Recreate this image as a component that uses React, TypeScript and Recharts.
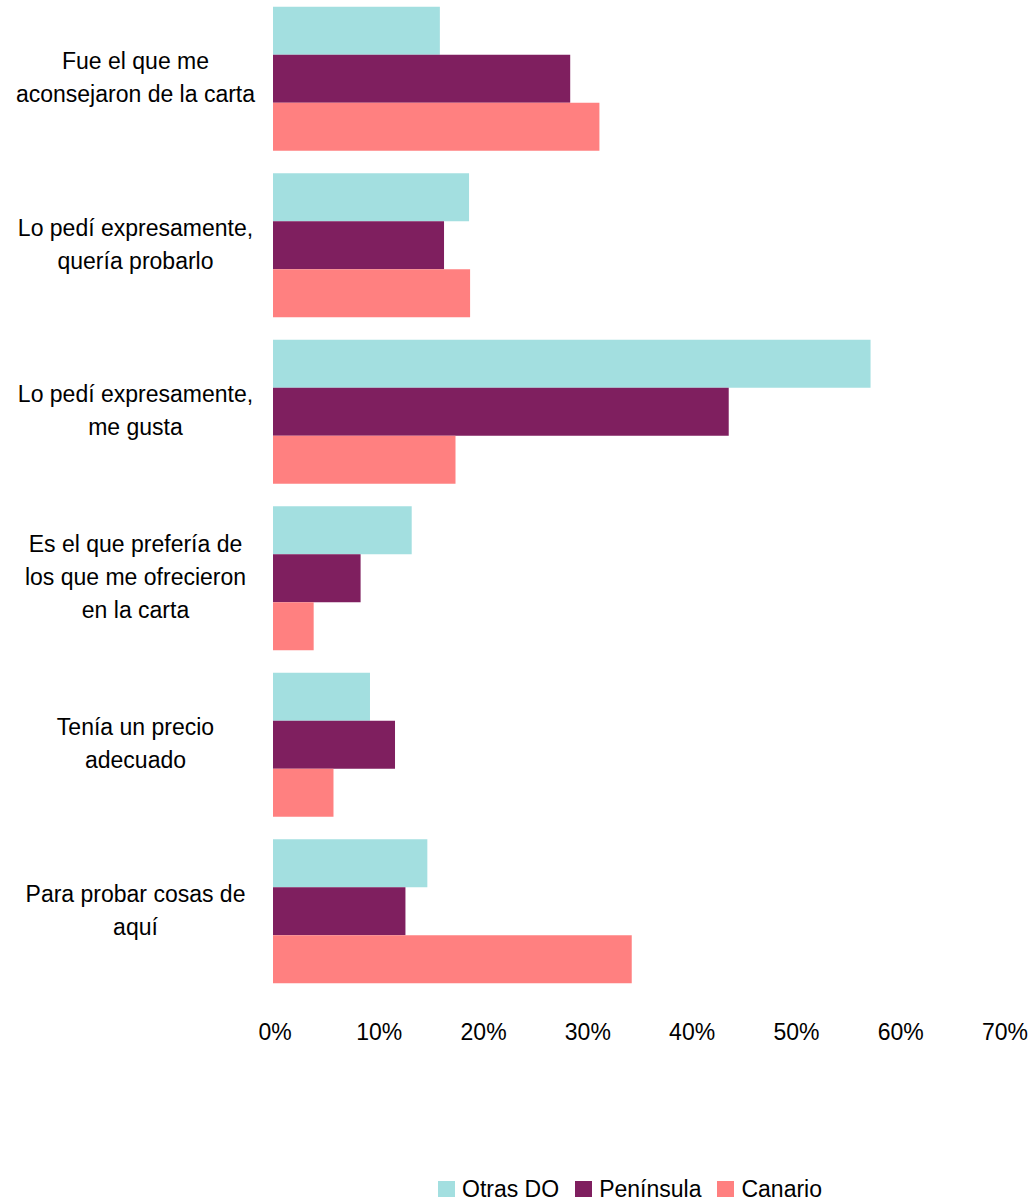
import { BarChart, Bar, XAxis, YAxis } from 'recharts';

// categories, one entry per line of the wrapped label
const categories: string[][] = [
  ['Fue el que me', 'aconsejaron de la carta'],
  ['Lo pedí expresamente,', 'quería probarlo'],
  ['Lo pedí expresamente,', 'me gusta'],
  ['Es el que prefería de', 'los que me ofrecieron', 'en la carta'],
  ['Tenía un precio', 'adecuado'],
  ['Para probar cosas de', 'aquí'],
];

const otrasDO = [16.0, 18.8, 57.3, 13.3, 9.3, 14.8];
const peninsula = [28.5, 16.4, 43.7, 8.4, 11.7, 12.7];
const canario = [31.3, 18.9, 17.5, 3.9, 5.8, 34.4];

const xTicks = [0, 10, 20, 30, 40, 50, 60, 70];

const series = [
  { key: 'otras', name: 'Otras DO', color: '#A3DFE0' },
  { key: 'peninsula', name: 'Península', color: '#7F1F5F' },
  { key: 'canario', name: 'Canario', color: '#FF8080' },
];

const data = categories.map((lines, i) => ({
  label: lines.join(' '),
  otras: otrasDO[i],
  peninsula: peninsula[i],
  canario: canario[i],
}));

const FONT = '"Liberation Sans", Arial, sans-serif';

function CategoryTick(props: any) {
  const { x, y, index } = props;
  const lines = categories[index] || [];
  const step = 33;
  const first = y - ((lines.length - 1) * step) / 2 + 7.5;
  return (
    <text x={x - 137.5} y={first} textAnchor="middle" fontSize={23} fontFamily={FONT} fill="#000">
      {lines.map((l, i) => (
        <tspan key={i} x={x - 137.5} y={first + i * step}>{l}</tspan>
      ))}
    </text>
  );
}

function PercentTick(props: any) {
  const { x, y, payload } = props;
  return (
    <text x={x + 2} y={y + 46} textAnchor="middle" fontSize={23} fontFamily={FONT} fill="#000">
      {payload.value}%
    </text>
  );
}

export default function App() {
  return (
    <div style={{ position: 'absolute', left: 0, top: 0, width: 1035, height: 1204, background: '#fff', overflow: 'hidden' }}>
      <div style={{ position: 'absolute', left: 0, top: -5 }}>
        <BarChart
          width={1035}
          height={1209}
          data={data}
          layout="vertical"
          margin={{ top: 0, right: 32, bottom: 150, left: 0 }}
          barCategoryGap="7%"
          barGap={0}
        >
          <XAxis
            type="number"
            domain={[0, 70]}
            ticks={xTicks}
            axisLine={false}
            tickLine={false}
            tickSize={0}
            tickMargin={0}
            height={60}
            tick={PercentTick}
            interval={0}
          />
          <YAxis
            type="category"
            dataKey="label"
            width={273}
            axisLine={false}
            tickLine={false}
            tickSize={0}
            tickMargin={0}
            tick={CategoryTick}
            interval={0}
          />
          {series.map(s => (
            <Bar key={s.key} dataKey={s.key} name={s.name} fill={s.color} isAnimationActive={false} />
          ))}
        </BarChart>
      </div>
      <div
        style={{
          position: 'absolute',
          left: 438,
          top: 1175,
          height: 28,
          display: 'flex',
          alignItems: 'center',
          fontFamily: FONT,
          fontSize: 23,
          lineHeight: '28px',
          color: '#000',
          whiteSpace: 'nowrap',
        }}
      >
        {series.map(s => (
          <div key={s.key} style={{ display: 'flex', alignItems: 'center', marginRight: 16 }}>
            <span style={{ display: 'inline-block', width: 17, height: 16, background: s.color, marginRight: 7 }} />
            <span>{s.name}</span>
          </div>
        ))}
      </div>
    </div>
  );
}
